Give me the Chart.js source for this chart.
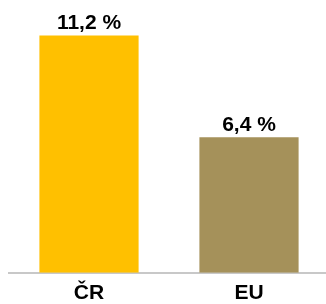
<!DOCTYPE html>
<html>
<head>
<meta charset="utf-8">
<script src="https://cdn.jsdelivr.net/npm/chart.js@4/dist/chart.umd.min.js"></script>
<style>
  html, body { margin: 0; padding: 0; background: #fff; overflow: hidden; }
  #wrap { position: relative; width: 329px; height: 304px; }
</style>
</head>
<body>
<div id="wrap"><canvas id="chart"></canvas></div>
<script>
const categories = ['ČR', 'EU'];
const values = [11.2, 6.4];
const barColors = ['#FFC000', '#A5915A'];

// value labels above the bars, "11,2 %"
const valueLabels = {
  id: 'valueLabels',
  afterDatasetsDraw(chart) {
    const ctx = chart.ctx;
    const meta = chart.getDatasetMeta(0);
    ctx.save();
    ctx.font = 'bold 21px "Liberation Sans", Arial, sans-serif';
    ctx.fillStyle = '#000';
    ctx.textAlign = 'center';
    ctx.textBaseline = 'alphabetic';
    meta.data.forEach((bar, i) => {
      const txt = values[i].toFixed(1).replace('.', ',') + ' %';
      ctx.fillText(txt, bar.x, bar.y - 6);
    });
    ctx.restore();
  }
};

new Chart(document.getElementById('chart'), {
  type: 'bar',
  data: {
    labels: categories,
    datasets: [{
      data: values,
      backgroundColor: barColors,
      borderWidth: 0,
      barPercentage: 0.62,
      categoryPercentage: 1
    }]
  },
  options: {
    responsive: true,
    maintainAspectRatio: false,
    animation: false,
    layout: { padding: { left: 9, right: 0, top: 0, bottom: -10 } },
    plugins: {
      legend: { display: false },
      tooltip: { enabled: false }
    },
    scales: {
      x: {
        grid: { display: false, drawTicks: false },
        border: { display: true, color: '#C8C8C8', width: 2 },
        ticks: {
          color: '#000',
          padding: 8,
          font: { family: '"Liberation Sans", Arial, sans-serif', size: 21, weight: 'bold' }
        }
      },
      y: {
        display: false,
        min: 0,
        max: 12.87
      }
    }
  },
  plugins: [valueLabels]
});
</script>
</body>
</html>
